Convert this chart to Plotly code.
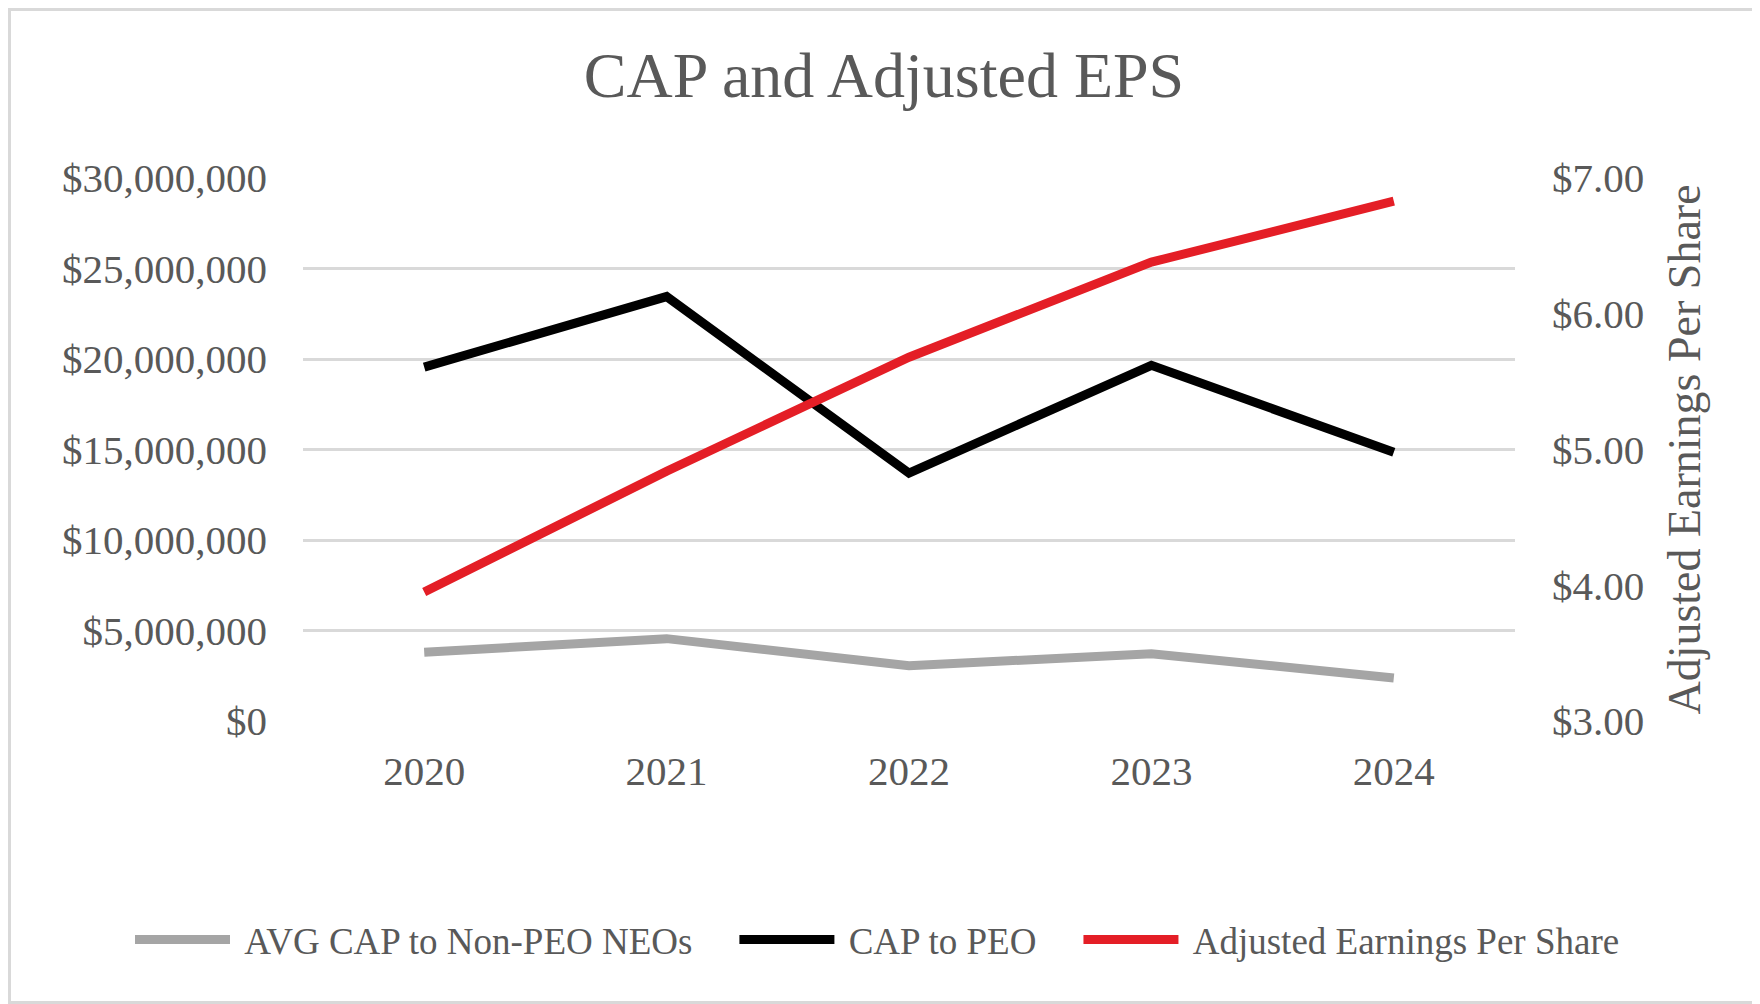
import plotly.graph_objects as go

years = ["2020", "2021", "2022", "2023", "2024"]
avg_cap_non_peo = [3800000, 4550000, 3050000, 3720000, 2380000]
cap_peo = [19550000, 23450000, 13700000, 19650000, 14850000]
adj_eps = [3.95, 4.84, 5.68, 6.38, 6.83]

left_ticks = [0, 5000000, 10000000, 15000000, 20000000, 25000000, 30000000]
left_labels = ["$0", "$5,000,000", "$10,000,000", "$15,000,000", "$20,000,000", "$25,000,000", "$30,000,000"]
right_ticks = [3, 4, 5, 6, 7]
right_labels = ["$3.00", "$4.00", "$5.00", "$6.00", "$7.00"]

# page body has an 8px margin, so the figure is a bit smaller than the window
W, H = 1752, 996
ml, mr, mt, mb = 295, 245, 170, 283
txt = "#595959"
serif = "Liberation Serif, Times New Roman, serif"
sp = "\u00a0"  # padding between legend entries

fig = go.Figure()
fig.add_trace(go.Scatter(x=years, y=avg_cap_non_peo, name=sp + "AVG CAP to Non-PEO NEOs" + sp * 4,
                         mode="lines", line=dict(color="#A5A5A5", width=9)))
fig.add_trace(go.Scatter(x=years, y=cap_peo, name=sp + "CAP to PEO" + sp * 4,
                         mode="lines", line=dict(color="#000000", width=9)))
fig.add_trace(go.Scatter(x=years, y=adj_eps, name=sp + "Adjusted Earnings Per Share",
                         mode="lines", line=dict(color="#E41E26", width=9), yaxis="y2"))

# light frame round the whole picture
pw, ph = W - ml - mr, H - mt - mb
fig.add_shape(type="rect", xref="paper", yref="paper",
              x0=-(ml - 1.5) / pw, x1=1 + (mr - 1.5) / pw,
              y0=-(mb - 1.5) / ph, y1=1 + (mt - 1.5) / ph,
              line=dict(color="#D9D9D9", width=3), layer="below")

fig.update_layout(
    width=W, height=H,
    margin=dict(l=ml, r=mr, t=mt, b=mb),
    paper_bgcolor="white", plot_bgcolor="white",
    font=dict(family=serif, color=txt, size=41),
    title=dict(text="CAP and Adjusted EPS", x=0.5, xanchor="center",
               y=1 - 67 / H, yanchor="middle", font=dict(size=64, color=txt)),
    xaxis=dict(type="category", range=[-0.5, 4.5], showgrid=False, showline=False,
               ticks="", tickfont=dict(size=41, color=txt), ticklabelstandoff=22),
    yaxis=dict(range=[0, 30000000], tickvals=left_ticks, ticktext=left_labels,
               showgrid=True, gridcolor="#D9D9D9", gridwidth=2.5, zeroline=False,
               showline=False, ticks="", tickfont=dict(size=41, color=txt),
               ticklabelstandoff=35),
    yaxis2=dict(range=[3, 7], tickvals=right_ticks, ticktext=right_labels,
                overlaying="y", side="right", showgrid=False, zeroline=False,
                ticks="", tickfont=dict(size=41, color=txt), ticklabelstandoff=36,
                title=dict(text="Adjusted Earnings Per Share", standoff=24,
                           font=dict(size=46, color=txt))),
    # left of and below the plot area, so the legend may use the full width in one row
    legend=dict(orientation="h", x=(122 - ml) / pw, xanchor="left",
                y=-(932 - (H - mb)) / ph, yanchor="middle",
                font=dict(size=37, color=txt), itemwidth=95, traceorder="normal"),
)

fig.write_html("out.html")
